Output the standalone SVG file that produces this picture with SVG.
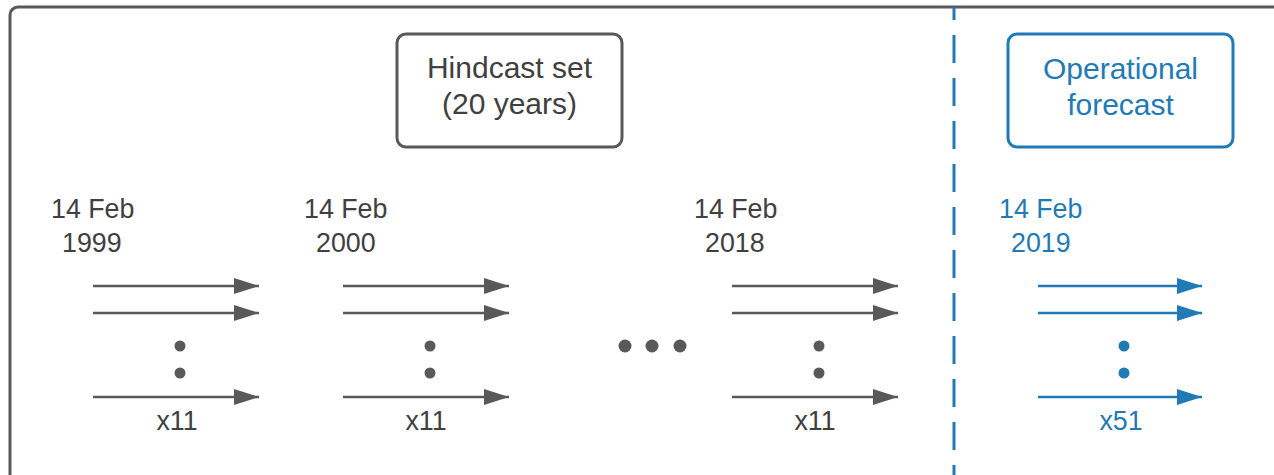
<svg xmlns="http://www.w3.org/2000/svg" width="1274" height="475" viewBox="0 0 1274 475">
<style>
text{font-family:"Liberation Sans",Arial,sans-serif}
.g{fill:#404040}
.b{fill:#1f7ab5}
.lbl{font-size:26.8px}
.box{font-size:30px;text-anchor:middle}
.mid{text-anchor:middle}
.ag{stroke:#595959;stroke-width:2.6;fill:none}
.ab{stroke:#1f7ab5;stroke-width:2.6;fill:none}
.dg{fill:#595959}
.db{fill:#1f7ab5}
</style>
<defs>
<marker id="mg" markerUnits="userSpaceOnUse" markerWidth="26" markerHeight="17" refX="25" refY="8" orient="auto">
<path d="M0,0 L25,8 L0,16 Z" fill="#595959"/>
</marker>
<marker id="mb" markerUnits="userSpaceOnUse" markerWidth="26" markerHeight="17" refX="25" refY="8" orient="auto">
<path d="M0,0 L25,8 L0,16 Z" fill="#1f7ab5"/>
</marker>
</defs>
<rect width="1274" height="475" fill="#ffffff"/>
<rect id="frame" x="10" y="7" width="1300" height="520" rx="8" fill="none" stroke="#595959" stroke-width="3"/>
<line id="divider" x1="954" y1="7" x2="954" y2="475" stroke="#1f7ab5" stroke-width="3" stroke-dasharray="28 15" stroke-dashoffset="15"/>

<g id="hindcast">
<rect x="397" y="34" width="225" height="113" rx="9" fill="none" stroke="#595959" stroke-width="3"/>
<text class="box g" x="509.5" y="78">Hindcast set</text>
<text class="box g" x="509.5" y="114">(20 years)</text>
</g>
<g id="operational">
<rect x="1008" y="34" width="225" height="113" rx="9" fill="none" stroke="#1f7ab5" stroke-width="3"/>
<text class="box b" x="1120.5" y="79">Operational</text>
<text class="box b" x="1120.5" y="115">forecast</text>
</g>

<g id="y1999">
<text class="lbl g" x="51" y="218">14 Feb</text>
<text class="lbl g" x="62" y="252">1999</text>
<circle class="dg" cx="180" cy="346" r="5.5"/>
<circle class="dg" cx="180" cy="373" r="5.5"/>
<text class="lbl g mid" x="177" y="430">x11</text>
</g>
<g id="y2000">
<text class="lbl g" x="304" y="218">14 Feb</text>
<text class="lbl g" x="316" y="252">2000</text>
<circle class="dg" cx="430" cy="346" r="5.5"/>
<circle class="dg" cx="430" cy="373" r="5.5"/>
<text class="lbl g mid" x="426" y="430">x11</text>
</g>
<g id="ellipsis">
<circle class="dg" cx="625" cy="346" r="6.5"/>
<circle class="dg" cx="652" cy="346" r="6.5"/>
<circle class="dg" cx="680" cy="346" r="6.5"/>
</g>
<g id="y2018">
<text class="lbl g" x="694" y="218">14 Feb</text>
<text class="lbl g" x="705" y="252">2018</text>
<circle class="dg" cx="819" cy="346" r="5.5"/>
<circle class="dg" cx="819" cy="373" r="5.5"/>
<text class="lbl g mid" x="815" y="430">x11</text>
</g>
<g id="y2019">
<text class="lbl b" x="999" y="218">14 Feb</text>
<text class="lbl b" x="1011" y="252">2019</text>
<circle class="db" cx="1124" cy="346" r="5.5"/>
<circle class="db" cx="1124" cy="373" r="5.5"/>
<text class="lbl b mid" x="1121" y="430">x51</text>
</g>

<g id="connectors">
<line class="ag" x1="93" y1="286" x2="259" y2="286" marker-end="url(#mg)"/>
<line class="ag" x1="93" y1="313" x2="259" y2="313" marker-end="url(#mg)"/>
<line class="ag" x1="93" y1="397" x2="259" y2="397" marker-end="url(#mg)"/>
<line class="ag" x1="343" y1="286" x2="509" y2="286" marker-end="url(#mg)"/>
<line class="ag" x1="343" y1="313" x2="509" y2="313" marker-end="url(#mg)"/>
<line class="ag" x1="343" y1="397" x2="509" y2="397" marker-end="url(#mg)"/>
<line class="ag" x1="732" y1="286" x2="898" y2="286" marker-end="url(#mg)"/>
<line class="ag" x1="732" y1="313" x2="898" y2="313" marker-end="url(#mg)"/>
<line class="ag" x1="732" y1="397" x2="898" y2="397" marker-end="url(#mg)"/>
<line class="ab" x1="1038" y1="286" x2="1202" y2="286" marker-end="url(#mb)"/>
<line class="ab" x1="1038" y1="313" x2="1202" y2="313" marker-end="url(#mb)"/>
<line class="ab" x1="1038" y1="397" x2="1202" y2="397" marker-end="url(#mb)"/>
</g>
</svg>
